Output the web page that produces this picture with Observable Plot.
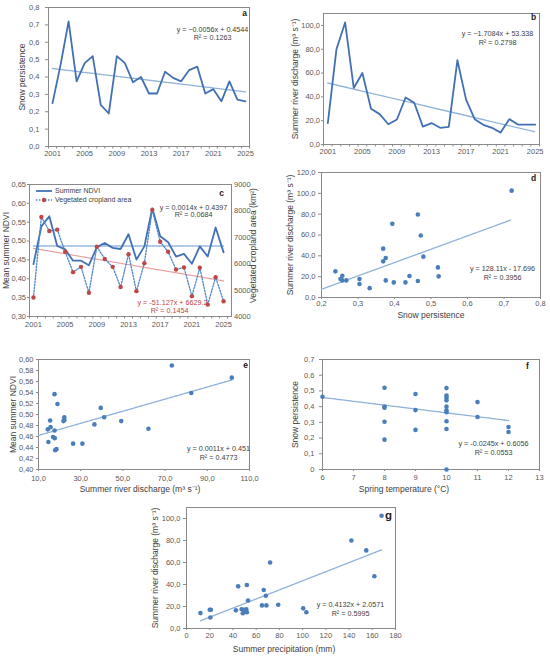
<!DOCTYPE html>
<html><head><meta charset="utf-8">
<script src="https://cdn.jsdelivr.net/npm/d3@7"></script>
<script src="https://cdn.jsdelivr.net/npm/@observablehq/plot@0.6"></script>
<style>
body{margin:0;background:#fff;}
#wrap{position:relative;width:550px;height:658px;overflow:hidden;font-family:"Liberation Sans",Arial,sans-serif;background:#fff;}
</style></head><body><div id="wrap"></div>
<script>
// ---------- DATA ----------
const years = [2001,2002,2003,2004,2005,2006,2007,2008,2009,2010,2011,2012,2013,2014,2015,2016,2017,2018,2019,2020,2021,2022,2023,2024,2025];
const yearLabels = [2001,2005,2009,2013,2017,2021,2025];

// panel a
const snowPersistence = [0.25,0.47,0.72,0.375,0.48,0.52,0.24,0.19,0.52,0.48,0.37,0.40,0.305,0.305,0.43,0.395,0.375,0.44,0.46,0.305,0.33,0.26,0.375,0.27,0.26];
const aTicks = [0,0.1,0.2,0.3,0.4,0.5,0.6,0.7,0.8];
const trendA = {slope:-0.0056, intercept:0.4544};
const eqA = "y = \u22120.0056x + 0.4544", r2A = "R\u00B2 = 0.1263";

// panel b
const riverDischarge = [18,80,102.5,47.5,60,30,25.5,17,21,39.5,35,15,18,14,14.8,70.8,37.7,21.3,16.5,14,10,21.3,16.7,16.7,16.7];
const bTicks = [0,20,40,60,80,100];
const trendB = {slope:-1.7084, intercept:53.338};
const eqB = "y = \u22121.7084x + 53.338", r2B = "R\u00B2 = 0.2798";

// panel c
const summerNdvi = [0.439,0.539,0.566,0.487,0.478,0.448,0.448,0.436,0.484,0.495,0.482,0.479,0.518,0.451,0.486,0.587,0.513,0.497,0.459,0.466,0.440,0.486,0.459,0.536,0.470];
const croplandArea = [4720,7770,7240,7290,6450,5680,5880,4900,6640,6180,5880,5120,6360,4960,6020,8040,6830,6450,5780,5860,4770,5850,4450,5490,4575];
const cLeftTicks = [0.30,0.35,0.40,0.45,0.50,0.55,0.60,0.65];
const cRightTicks = [4000,5000,6000,7000,8000,9000];
const ndviTrendLevel = [0.487,0.487];
const trendC = {slope:-51.127, intercept:6629.2};
const eqC1 = "y = 0.0014x + 0.4397", r2C1 = "R\u00B2 = 0.0684";
const eqC2 = "y = -51.127x + 6629.2", r2C2 = "R\u00B2 = 0.1454";

// panel d
const dSnow = [0.238,0.252,0.257,0.257,0.268,0.304,0.304,0.332,0.369,0.369,0.376,0.376,0.394,0.398,0.430,0.441,0.464,0.464,0.472,0.479,0.519,0.521,0.721];
const dDischarge = [25.1,17.7,20.9,16.4,16.4,17.7,12.9,9.0,46.9,34.7,37.9,16.4,70.7,14.5,14.5,20.6,79.7,15.8,59.5,39.2,28.9,20.3,102.6];
const dXTicks = [0.2,0.3,0.4,0.5,0.6,0.7,0.8];
const dYTicks = [0,20,40,60,80,100,120];
const trendD = {slope:128.11, intercept:-17.696, x:[0.2,0.72]};
const eqD = "y = 128.11x - 17.696", r2D = "R\u00B2 = 0.3956";

// panel e
const eDischarge = [14.4,14.7,15.5,15.7,16.9,17.6,17.6,17.7,17.9,18.5,19.0,21.8,22.2,22.3,26.4,30.8,36.5,39.5,41.1,49.2,62.1,73.2,82.4,101.6];
const eNdvi = [0.473,0.450,0.489,0.477,0.459,0.537,0.471,0.457,0.435,0.437,0.519,0.488,0.495,0.490,0.447,0.447,0.482,0.512,0.495,0.488,0.474,0.589,0.539,0.567];
const eXTicks = [10,30,50,70,90,110];
const eYTicks = [0.40,0.42,0.44,0.46,0.48,0.50,0.52,0.54,0.56,0.58,0.60];
const trendE = {slope:0.0011, intercept:0.451, x:[10,101.6]};
const eqE = "y = 0.0011x + 0.451", r2E = "R\u00B2 = 0.4773";

// panel f
const fTemp = [6,8,8,8,8,8,9,9,9,10,10,10,10,10,10,10,10,10,10,11,11,12,12];
const fSnow = [0.463,0.520,0.400,0.393,0.304,0.190,0.480,0.378,0.252,0.518,0.471,0.457,0.440,0.400,0.376,0.364,0.307,0.258,0.0,0.429,0.334,0.270,0.239];
const fXTicks = [6,7,8,9,10,11,12,13];
const fYTicks = [0,0.1,0.2,0.3,0.4,0.5,0.6,0.7];
const trendF = {slope:-0.0245, intercept:0.6056, x:[6,12]};
const eqF = "y = -0.0245x + 0.6056", r2F = "R\u00B2 = 0.0553";

// panel g
const gPrecip = [12,20,21,20.5,42.5,44.5,47.5,48.5,49.5,50.5,51.5,52,52,53,65,66.5,68.3,68.8,72,79,100.5,103.2,142,154.8,161.8,168];
const gDischarge = [14,17,17,10,16.5,38.3,17.5,13.8,17,15,17.5,14.8,39.5,25.5,21,35,29.8,21,60,21.6,18.3,14.8,80,71,47.5,102.5];
const gXTicks = [0,20,40,60,80,100,120,140,160,180];
const gYTicks = [0,20,40,60,80,100];
const trendG = {slope:0.4132, intercept:2.0571, x:[12,168]};
const eqG = "y = 0.4132x + 2.0571", r2G = "R\u00B2 = 0.5995";

// ---------- STYLE ----------
const FONT = '"Liberation Sans", Arial, Helvetica, sans-serif';
const TXT = "#404040";
const BLUE = "#4170b5";
const DOT = "#4a7ebb";
const TREND = "#8fb2da";
const RED = "#bd4646";
const REDTREND = "#e8a3a0";
const FRAME = "#8a8a8a";

const wrap = document.getElementById("wrap");
const comma = n => d => d.toFixed(n).replace(".", ",");
function place(el, left, top){
  const d = document.createElement("div");
  d.style.position = "absolute"; d.style.left = left + "px"; d.style.top = top + "px";
  d.appendChild(el); wrap.appendChild(d);
}
const baseStyle = () => ({fontFamily: FONT, fontSize: "7.5px", color: "#595959", background: "none", overflow: "visible"});
const yTitle = (t, off, extra = {}) => Plot.text([t], {text: d => d, frameAnchor: "left", rotate: -90, dx: -off, fontSize: 8.5, fill: TXT, textAnchor: "middle", lineAnchor: "middle", ...extra});
const xTitle = (t, off, extra = {}) => Plot.text([t], {text: d => d, frameAnchor: "bottom", dy: off, fontSize: 8.5, fill: TXT, textAnchor: "middle", lineAnchor: "middle", ...extra});
const note = (t, anchor, dx, dy, extra = {}) => Plot.text([t], {text: d => d, frameAnchor: anchor, dx, dy, fontSize: 7.2, fill: TXT, textAnchor: "middle", lineAnchor: "middle", ...extra});
const letter = (t, dx, dy, size = 8.5) => Plot.text([t], {text: d => d, frameAnchor: "top-right", dx, dy, fontSize: size, fontWeight: "bold", fill: "#222", textAnchor: "middle", lineAnchor: "middle"});
const yearEdges = years.map(y => y - 0.5).concat([years[years.length - 1] + 0.5]);
const series = (vals) => years.map((year, i) => ({year, value: vals[i]}));
const timeTrend = (t) => [years[0], years[years.length - 1]].map(year => ({year, value: t.slope * (year - years[0] + 1) + t.intercept}));
const points = (xs, ys) => xs.map((x, i) => ({x, y: ys[i]}));
const lineTrend = (t) => t.x.map(x => ({x, y: t.slope * x + t.intercept}));
const trendStyle = {stroke: TREND, strokeWidth: 1.4, strokeDasharray: "1,1.2"};

// ---------- PANEL a ----------
place(Plot.plot({
  width: 275, height: 165, marginLeft: 48, marginRight: 26, marginTop: 7, marginBottom: 19,
  style: baseStyle(),
  x: {domain: [2000.5, 2025.5]},
  y: {domain: [0, 0.8]},
  marks: [
    Plot.frame({stroke: FRAME}),
    Plot.axisY(aTicks, {tickSize: 3, tickPadding: 6, tickFormat: comma(1), label: null, stroke: FRAME}),
    Plot.axisX(yearEdges, {tickSize: 2.5, tickFormat: () => "", label: null, stroke: FRAME}),
    Plot.axisX(yearLabels, {tickSize: 0, tickPadding: 4, tickFormat: d => String(d), label: null}),
    yTitle("Snow persistence", 26),
    Plot.line(timeTrend(trendA), {x: "year", y: "value", ...trendStyle}),
    Plot.line(series(snowPersistence), {x: "year", y: "value", stroke: BLUE, strokeWidth: 1.8}),
    note(eqA, "top-right", -37, 22),
    note(r2A, "top-right", -37, 30),
    letter("a", -5, 6)
  ]
}), 0, 0);

// ---------- PANEL b ----------
place(Plot.plot({
  width: 275, height: 165, marginLeft: 48, marginRight: 11, marginTop: 13, marginBottom: 21,
  style: baseStyle(),
  x: {domain: [2000.5, 2025.5]},
  y: {domain: [0, 110]},
  marks: [
    Plot.frame({stroke: FRAME}),
    Plot.axisY(bTicks, {tickSize: 2, tickPadding: 1.5, tickFormat: comma(1), label: null, stroke: FRAME}),
    Plot.axisX(yearEdges, {tickSize: 2.5, tickFormat: () => "", label: null, stroke: FRAME}),
    Plot.axisX(yearLabels, {tickSize: 0, tickPadding: 4, tickFormat: d => String(d), label: null}),
    yTitle("Summer river discharge (m\u00B3 s\u207B\u00B9)", 28),
    Plot.line(timeTrend(trendB), {x: "year", y: "value", ...trendStyle}),
    Plot.line(series(riverDischarge), {x: "year", y: "value", stroke: BLUE, strokeWidth: 1.8}),
    note(eqB, "top-right", -42, 20),
    note(r2B, "top-right", -42, 29),
    letter("b", -6, 4)
  ]
}), 275, 0);

// ---------- PANEL c ----------
const toLeft = v => 0.30 + (v - 4000) * 0.35 / 5000;
const fromLeft = y => 4000 + (y - 0.30) * 5000 / 0.35;
const seriesC = years.map((year, i) => ({year, ndvi: summerNdvi[i], area: croplandArea[i]}));
const ndviTrendData = [years[0], years[years.length - 1]].map((year, i) => ({year, value: ndviTrendLevel[i]}));
place(Plot.plot({
  width: 275, height: 170, marginLeft: 29, marginRight: 44, marginTop: 19, marginBottom: 19,
  style: baseStyle(),
  x: {domain: [2000.5, 2026]},
  y: {domain: [0.30, 0.65]},
  marks: [
    Plot.frame({stroke: FRAME}),
    Plot.axisY(cLeftTicks, {tickSize: 2, tickPadding: 1.5, tickFormat: comma(2), label: null, stroke: FRAME}),
    Plot.axisY(cRightTicks.map(toLeft), {anchor: "right", tickSize: 0, tickPadding: 2.5, tickFormat: d => String(Math.round(fromLeft(d))), label: null}),
    Plot.axisX(yearEdges, {tickSize: 2.5, tickFormat: () => "", label: null, stroke: FRAME}),
    Plot.axisX(yearLabels, {tickSize: 0, tickPadding: 5, tickFormat: d => String(d), label: null}),
    yTitle("Mean summer NDVI", 23),
    Plot.text(["Vegetated cropland area (km\u00B2)"], {text: d => d, frameAnchor: "right", rotate: -90, dx: 22, dy: -5, fontSize: 8.5, fill: TXT, textAnchor: "middle", lineAnchor: "middle"}),
    Plot.line(ndviTrendData, {x: "year", y: "value", ...trendStyle}),
    Plot.line(timeTrend(trendC), {x: "year", y: d => toLeft(d.value), stroke: REDTREND, strokeWidth: 1.2}),
    Plot.line(seriesC, {x: "year", y: "ndvi", stroke: BLUE, strokeWidth: 1.8}),
    Plot.line(seriesC, {x: "year", y: d => toLeft(d.area), stroke: "#4f86c6", strokeWidth: 1.3, strokeDasharray: "1.5,1.5"}),
    Plot.dot(seriesC, {x: "year", y: d => toLeft(d.area), r: 2.2, fill: RED, stroke: "none"}),
    note(eqC1, "top-right", -38, 23),
    note(r2C1, "top-right", -38, 30.5),
    note(eqC2, "bottom-right", -59, -14, {fill: RED}),
    note(r2C2, "bottom-right", -62, -6, {fill: RED}),
    letter("c", -10, 9)
  ]
}), 0, 165);

// legend for c
const leg = document.createElement("div");
leg.style.cssText = "position:absolute;left:33px;top:186px;";
leg.innerHTML = `<svg width="130" height="20" style="overflow:visible;font-family:${FONT.replace(/"/g, "'")};font-size:7px;fill:${TXT}">
<line x1="3" x2="19" y1="5" y2="5" stroke="${BLUE}" stroke-width="1.8"/>
<text x="22" y="5" dominant-baseline="middle">Summer NDVI</text>
<line x1="3" x2="19" y1="14" y2="14" stroke="#4f86c6" stroke-width="1.3" stroke-dasharray="1.5,1.5"/>
<circle cx="11" cy="14" r="2.2" fill="${RED}"/>
<text x="22" y="14" dominant-baseline="middle">Vegetated cropland area</text>
</svg>`;
wrap.appendChild(leg);

// ---------- PANEL d ----------
place(Plot.plot({
  width: 275, height: 165, marginLeft: 46, marginRight: 10, marginTop: 7, marginBottom: 33,
  style: baseStyle(),
  x: {domain: [0.2, 0.8]},
  y: {domain: [0, 120]},
  marks: [
    Plot.frame({stroke: FRAME}),
    Plot.axisY(dYTicks, {tickSize: 3, tickPadding: 3, tickFormat: comma(1), label: null, stroke: FRAME}),
    Plot.axisX(dXTicks, {tickSize: 2, tickPadding: 1.5, tickFormat: comma(1), label: null, stroke: FRAME}),
    yTitle("Summer river discharge (m\u00B3 s\u207B\u00B9)", 31),
    xTitle("Snow persistence", 18),
    Plot.line(lineTrend(trendD), {x: "x", y: "y", ...trendStyle}),
    Plot.dot(points(dSnow, dDischarge), {x: "x", y: "y", r: 2.3, fill: DOT, stroke: "none"}),
    note(eqD, "bottom-right", -38, -28.5),
    note(r2D, "bottom-right", -38, -20),
    letter("d", -7, 6)
  ]
}), 275, 165);

// ---------- PANEL e ----------
place(Plot.plot({
  width: 275, height: 160, marginLeft: 38, marginRight: 26, marginTop: 19, marginBottom: 31,
  style: baseStyle(),
  x: {domain: [10, 110]},
  y: {domain: [0.40, 0.60]},
  marks: [
    Plot.frame({stroke: FRAME}),
    Plot.axisY(eYTicks, {tickSize: 2, tickPadding: 3, tickFormat: comma(2), label: null, stroke: FRAME}),
    Plot.axisX(eXTicks, {tickSize: 2, tickPadding: 4, tickFormat: comma(1), label: null, stroke: FRAME}),
    yTitle("Mean summer NDVI", 25),
    xTitle("Summer river discharge (m\u00B3 s\u207B\u00B9)", 20, {dx: -4}),
    Plot.line(lineTrend(trendE), {x: "x", y: "y", ...trendStyle}),
    Plot.dot(points(eDischarge, eNdvi), {x: "x", y: "y", r: 2.3, fill: DOT, stroke: "none"}),
    note(eqE, "bottom-right", -31, -20.5),
    note(r2E, "bottom-right", -31, -12),
    letter("e", -4, 6)
  ]
}), 0, 340);

// ---------- PANEL f ----------
place(Plot.plot({
  width: 275, height: 160, marginLeft: 47, marginRight: 11, marginTop: 19, marginBottom: 31,
  style: baseStyle(),
  x: {domain: [6, 13]},
  y: {domain: [0, 0.7]},
  marks: [
    Plot.frame({stroke: FRAME}),
    Plot.axisY(fYTicks, {tickSize: 3, tickPadding: 5, tickFormat: d => d === 0 ? "0" : comma(1)(d), label: null, stroke: FRAME}),
    Plot.axisX(fXTicks, {tickSize: 2, tickPadding: 3, tickFormat: d => String(d), label: null, stroke: FRAME}),
    yTitle("Snow persistence", 27),
    xTitle("Spring temperature (\u00B0C)", 20, {dx: -27}),
    Plot.line(lineTrend(trendF), {x: "x", y: "y", ...trendStyle}),
    Plot.dot(points(fTemp, fSnow), {x: "x", y: "y", r: 2.3, fill: DOT, stroke: "none"}),
    note(eqF, "bottom-right", -46, -25.5),
    note(r2F, "bottom-right", -46, -17),
    letter("f", -12, 7)
  ]
}), 275, 340);

// ---------- PANEL g ----------
place(Plot.plot({
  width: 300, height: 158, marginLeft: 66, marginRight: 25, marginTop: 7, marginBottom: 30,
  style: baseStyle(),
  x: {domain: [0, 180]},
  y: {domain: [0, 110]},
  marks: [
    Plot.frame({stroke: FRAME}),
    Plot.axisY(gYTicks, {tickSize: 3, tickPadding: 3, tickFormat: comma(1), label: null, stroke: FRAME}),
    Plot.axisX(gXTicks, {tickSize: 2, tickPadding: 2.5, tickFormat: d => String(d), label: null, stroke: FRAME}),
    yTitle("Summer river discharge (m\u00B3 s\u207B\u00B9)", 31),
    xTitle("Summer precipitation (mm)", 21, {dx: -7}),
    Plot.line(lineTrend(trendG), {x: "x", y: "y", ...trendStyle}),
    Plot.dot(points(gPrecip, gDischarge), {x: "x", y: "y", r: 2.3, fill: DOT, stroke: "none"}),
    note(eqG, "bottom-right", -45, -23.5),
    note(r2G, "bottom-right", -45, -15),
    letter("g", -7, 8, 11.5)
  ]
}), 120, 500);
</script>
</body></html>
